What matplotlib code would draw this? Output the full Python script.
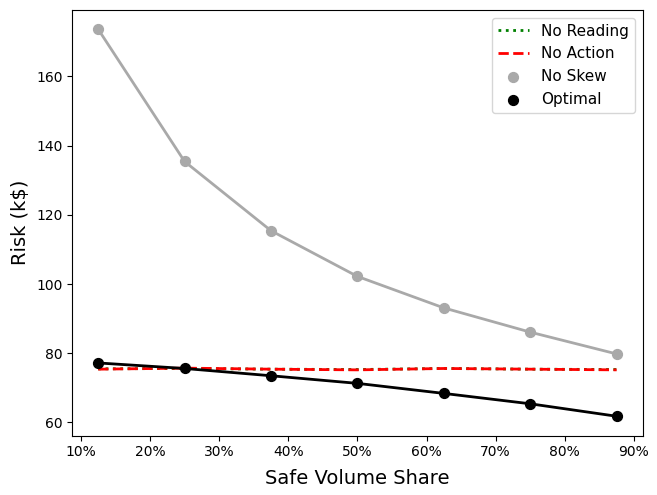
import matplotlib
matplotlib.use("Agg")
import matplotlib.pyplot as plt
from matplotlib.ticker import PercentFormatter

safe_share = [0.125, 0.25, 0.375, 0.5, 0.625, 0.75, 0.875]
no_reading = [75.5, 75.6, 75.4, 75.3, 75.6, 75.4, 75.3]
no_action = [75.4, 75.7, 75.4, 75.2, 75.6, 75.4, 75.2]
no_skew = [173.6, 135.4, 115.4, 102.2, 93.1, 86.1, 79.8]
optimal = [77.2, 75.6, 73.5, 71.3, 68.4, 65.4, 61.8]

fig, ax = plt.subplots(figsize=(6.57, 4.95), dpi=100)
fig.subplots_adjust(left=0.11, right=0.978, top=0.98, bottom=0.12)

ax.plot(safe_share, no_reading, color='green', linestyle=':', lw=2, label='No Reading')
ax.plot(safe_share, no_action, color='red', linestyle='--', lw=2, label='No Action')
ax.plot(safe_share, no_skew, color='darkgray', lw=2)
ax.scatter(safe_share, no_skew, color='darkgray', s=50, zorder=3, label='No Skew')
ax.plot(safe_share, optimal, color='black', lw=2)
ax.scatter(safe_share, optimal, color='black', s=50, zorder=3, label='Optimal')

ax.xaxis.set_major_formatter(PercentFormatter(1.0, decimals=0))
ax.set_xticks([0.1, 0.2, 0.3, 0.4, 0.5, 0.6, 0.7, 0.8, 0.9])
ax.set_xlabel("Safe Volume Share", fontsize=14, labelpad=7)
ax.set_ylabel("Risk (k$)", fontsize=14)
ax.legend(loc='upper right', fontsize=11)

plt.savefig("out.png")
plt.close()
